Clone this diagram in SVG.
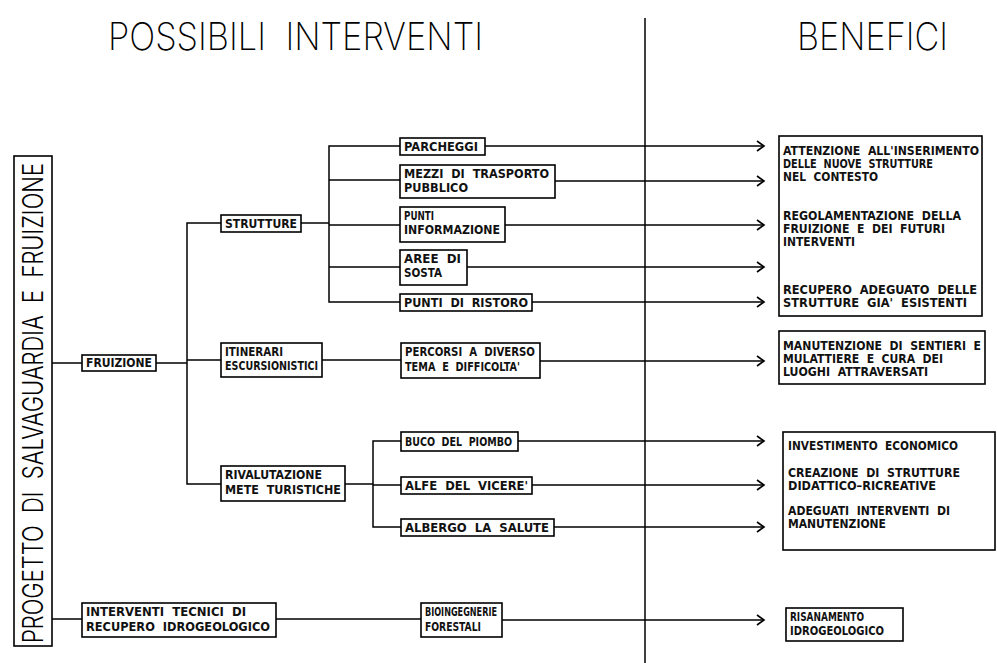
<svg xmlns="http://www.w3.org/2000/svg" width="997" height="663" viewBox="0 0 997 663" xml:space="preserve">
<style>
.bx{fill:#fff;stroke:#000;stroke-width:1.6}
.ln{fill:none;stroke:#000;stroke-width:1.5}
.t{font-family:"DejaVu Sans Condensed","Liberation Sans",sans-serif;font-weight:bold;font-size:11.5px;fill:#111;white-space:pre}
.h{font-family:Inter,"DejaVu Sans Condensed",sans-serif;font-weight:200;font-size:38px;fill:#000;white-space:pre}
.v{font-family:Inter,"DejaVu Sans Condensed",sans-serif;font-weight:300;font-size:28px;fill:#000;white-space:pre}
</style>
<defs>
<marker id="ar" markerWidth="10" markerHeight="12" refX="8" refY="6" orient="auto" markerUnits="userSpaceOnUse">
<path d="M1,1 L8,6 L1,11" fill="none" stroke="#000" stroke-width="1.6"/>
</marker>
</defs>
<rect width="997" height="663" fill="#fff"/>
<g id="titles">
<text class="h" x="108" y="50" textLength="375" lengthAdjust="spacingAndGlyphs">POSSIBILI  INTERVENTI</text>
<text class="h" x="797" y="50" textLength="151" lengthAdjust="spacingAndGlyphs">BENEFICI</text>
</g>
<g id="connectors">
<line class="ln" x1="645" y1="18" x2="645" y2="663"/>
<line class="ln" x1="52" y1="363" x2="82" y2="363"/>
<line class="ln" x1="156" y1="363" x2="187" y2="363"/>
<polyline class="ln" points="221,223 187,223 187,484 221,484"/>
<line class="ln" x1="187" y1="360" x2="221" y2="360"/>
<line class="ln" x1="301" y1="223" x2="329" y2="223"/>
<polyline class="ln" points="400,146 329,146 329,302 400,302"/>
<line class="ln" x1="329" y1="180" x2="400" y2="180"/>
<line class="ln" x1="329" y1="225" x2="400" y2="225"/>
<line class="ln" x1="329" y1="267" x2="400" y2="267"/>
<line class="ln" x1="485" y1="146" x2="764" y2="146" marker-end="url(#ar)"/>
<line class="ln" x1="555" y1="181" x2="764" y2="181" marker-end="url(#ar)"/>
<line class="ln" x1="505" y1="225" x2="764" y2="225" marker-end="url(#ar)"/>
<line class="ln" x1="467" y1="267" x2="764" y2="267" marker-end="url(#ar)"/>
<line class="ln" x1="532" y1="302" x2="764" y2="302" marker-end="url(#ar)"/>
<line class="ln" x1="322" y1="360" x2="401" y2="360"/>
<line class="ln" x1="540" y1="361" x2="764" y2="361" marker-end="url(#ar)"/>
<line class="ln" x1="345" y1="484" x2="373" y2="484"/>
<polyline class="ln" points="401,441 373,441 373,527 401,527"/>
<line class="ln" x1="373" y1="485" x2="401" y2="485"/>
<line class="ln" x1="518" y1="441" x2="764" y2="441" marker-end="url(#ar)"/>
<line class="ln" x1="532" y1="485" x2="764" y2="485" marker-end="url(#ar)"/>
<line class="ln" x1="554" y1="527" x2="764" y2="527" marker-end="url(#ar)"/>
<line class="ln" x1="52" y1="619" x2="82" y2="619"/>
<line class="ln" x1="276" y1="619" x2="421" y2="619"/>
<line class="ln" x1="502" y1="620" x2="764" y2="620" marker-end="url(#ar)"/>
</g>
<g id="progetto">
<rect class="bx" x="14" y="156" width="38" height="490"/>
<text class="v" transform="translate(43,643) rotate(-90)" textLength="480" lengthAdjust="spacingAndGlyphs">PROGETTO  DI  SALVAGUARDIA  E  FRUIZIONE</text>
</g>
<g id="fruizione">
<rect class="bx" x="82" y="355" width="74" height="16"/>
<text class="t" x="86" y="367" textLength="66" lengthAdjust="spacingAndGlyphs">FRUIZIONE</text>
</g>
<g id="strutture">
<rect class="bx" x="221" y="215" width="80" height="17"/>
<text class="t" x="225" y="228" textLength="72" lengthAdjust="spacingAndGlyphs">STRUTTURE</text>
</g>
<g id="parcheggi">
<rect class="bx" x="400" y="138" width="85" height="17"/>
<text class="t" x="404" y="151" textLength="74" lengthAdjust="spacingAndGlyphs">PARCHEGGI</text>
</g>
<g id="mezzi">
<rect class="bx" x="400" y="165" width="155" height="33"/>
<text class="t" x="404" y="178" textLength="145" lengthAdjust="spacingAndGlyphs">MEZZI  DI  TRASPORTO</text>
<text class="t" x="404" y="192" textLength="64" lengthAdjust="spacingAndGlyphs">PUBBLICO</text>
</g>
<g id="punti-info">
<rect class="bx" x="400" y="207" width="105" height="35"/>
<text class="t" x="404" y="220" textLength="30" lengthAdjust="spacingAndGlyphs">PUNTI</text>
<text class="t" x="404" y="234" textLength="96" lengthAdjust="spacingAndGlyphs">INFORMAZIONE</text>
</g>
<g id="aree-sosta">
<rect class="bx" x="400" y="250" width="67" height="35"/>
<text class="t" x="404" y="263" textLength="57" lengthAdjust="spacingAndGlyphs">AREE  DI</text>
<text class="t" x="404" y="277" textLength="38" lengthAdjust="spacingAndGlyphs">SOSTA</text>
</g>
<g id="punti-ristoro">
<rect class="bx" x="400" y="294" width="132" height="17"/>
<text class="t" x="404" y="307" textLength="124" lengthAdjust="spacingAndGlyphs">PUNTI  DI  RISTORO</text>
</g>
<g id="itinerari">
<rect class="bx" x="221" y="343" width="101" height="34"/>
<text class="t" x="225" y="356" textLength="58" lengthAdjust="spacingAndGlyphs">ITINERARI</text>
<text class="t" x="225" y="370" textLength="93" lengthAdjust="spacingAndGlyphs">ESCURSIONISTICI</text>
</g>
<g id="percorsi">
<rect class="bx" x="401" y="343" width="139" height="35"/>
<text class="t" x="405" y="356" textLength="130" lengthAdjust="spacingAndGlyphs">PERCORSI  A  DIVERSO</text>
<text class="t" x="405" y="371" textLength="115" lengthAdjust="spacingAndGlyphs">TEMA  E  DIFFICOLTA'</text>
</g>
<g id="rivalutazione">
<rect class="bx" x="221" y="466" width="124" height="35"/>
<text class="t" x="225" y="479" textLength="97" lengthAdjust="spacingAndGlyphs">RIVALUTAZIONE</text>
<text class="t" x="225" y="494" textLength="116" lengthAdjust="spacingAndGlyphs">METE  TURISTICHE</text>
</g>
<g id="buco">
<rect class="bx" x="401" y="432" width="117" height="19"/>
<text class="t" x="405" y="446" textLength="107" lengthAdjust="spacingAndGlyphs">BUCO  DEL  PIOMBO</text>
</g>
<g id="alfe">
<rect class="bx" x="401" y="477" width="131" height="17"/>
<text class="t" x="405" y="490" textLength="123" lengthAdjust="spacingAndGlyphs">ALFE  DEL  VICERE'</text>
</g>
<g id="albergo">
<rect class="bx" x="401" y="519" width="153" height="17"/>
<text class="t" x="405" y="532" textLength="144" lengthAdjust="spacingAndGlyphs">ALBERGO  LA  SALUTE</text>
</g>
<g id="interventi-tecnici">
<rect class="bx" x="82" y="603" width="194" height="34"/>
<text class="t" x="86" y="616" textLength="160" lengthAdjust="spacingAndGlyphs">INTERVENTI  TECNICI  DI</text>
<text class="t" x="86" y="631" textLength="184" lengthAdjust="spacingAndGlyphs">RECUPERO  IDROGEOLOGICO</text>
</g>
<g id="bioingegnerie">
<rect class="bx" x="421" y="603" width="81" height="34"/>
<text class="t" x="425" y="616" textLength="72" lengthAdjust="spacingAndGlyphs">BIOINGEGNERIE</text>
<text class="t" x="425" y="631" textLength="56" lengthAdjust="spacingAndGlyphs">FORESTALI</text>
</g>
<g id="benefici-strutture">
<rect class="bx" x="779" y="136" width="203" height="180"/>
<text class="t" x="783" y="155" textLength="196" lengthAdjust="spacingAndGlyphs">ATTENZIONE  ALL'INSERIMENTO</text>
<text class="t" x="783" y="168" textLength="150" lengthAdjust="spacingAndGlyphs">DELLE  NUOVE  STRUTTURE</text>
<text class="t" x="783" y="181" textLength="95" lengthAdjust="spacingAndGlyphs">NEL  CONTESTO</text>
<text class="t" x="783" y="220" textLength="178" lengthAdjust="spacingAndGlyphs">REGOLAMENTAZIONE  DELLA</text>
<text class="t" x="783" y="233" textLength="162" lengthAdjust="spacingAndGlyphs">FRUIZIONE  E  DEI  FUTURI</text>
<text class="t" x="783" y="246" textLength="72" lengthAdjust="spacingAndGlyphs">INTERVENTI</text>
<text class="t" x="783" y="294" textLength="194" lengthAdjust="spacingAndGlyphs">RECUPERO  ADEGUATO  DELLE</text>
<text class="t" x="783" y="307" textLength="184" lengthAdjust="spacingAndGlyphs">STRUTTURE  GIA'  ESISTENTI</text>
</g>
<g id="benefici-itinerari">
<rect class="bx" x="779" y="331" width="206" height="53"/>
<text class="t" x="783" y="350" textLength="198" lengthAdjust="spacingAndGlyphs">MANUTENZIONE  DI  SENTIERI  E</text>
<text class="t" x="783" y="363" textLength="160" lengthAdjust="spacingAndGlyphs">MULATTIERE  E  CURA  DEI</text>
<text class="t" x="783" y="376" textLength="145" lengthAdjust="spacingAndGlyphs">LUOGHI  ATTRAVERSATI</text>
</g>
<g id="benefici-mete">
<rect class="bx" x="783" y="432" width="212" height="118"/>
<text class="t" x="788" y="450" textLength="170" lengthAdjust="spacingAndGlyphs">INVESTIMENTO  ECONOMICO</text>
<text class="t" x="788" y="477" textLength="172" lengthAdjust="spacingAndGlyphs">CREAZIONE  DI  STRUTTURE</text>
<text class="t" x="788" y="490" textLength="148" lengthAdjust="spacingAndGlyphs">DIDATTICO–RICREATIVE</text>
<text class="t" x="788" y="515" textLength="162" lengthAdjust="spacingAndGlyphs">ADEGUATI  INTERVENTI  DI</text>
<text class="t" x="788" y="528" textLength="98" lengthAdjust="spacingAndGlyphs">MANUTENZIONE</text>
</g>
<g id="benefici-risanamento">
<rect class="bx" x="786" y="608" width="117" height="33"/>
<text class="t" x="790" y="621" textLength="74" lengthAdjust="spacingAndGlyphs">RISANAMENTO</text>
<text class="t" x="790" y="635" textLength="94" lengthAdjust="spacingAndGlyphs">IDROGEOLOGICO</text>
</g>
</svg>
